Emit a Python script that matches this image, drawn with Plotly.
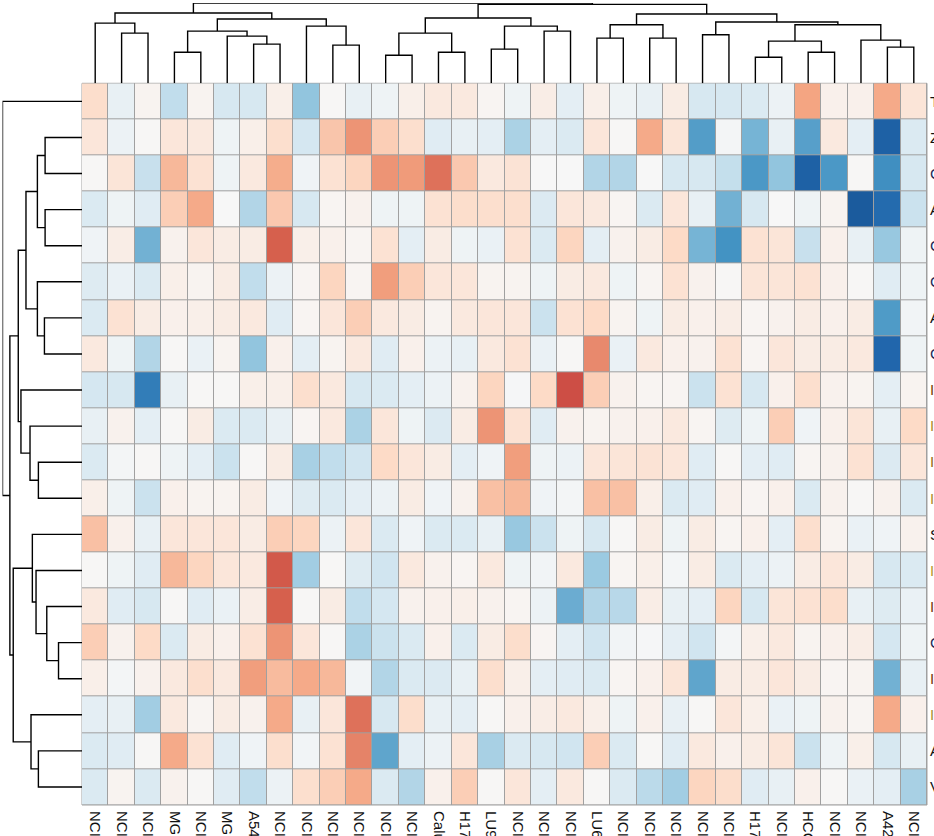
import plotly.graph_objects as go

# ---------------- data ----------------
col_labels = ["NCI-H1299", "NCI-H460", "NCI-H1975", "MGH-7", "NCI-H23", "MGH-24",
              "A549", "NCI-H358", "NCI-H2228", "NCI-H1650", "NCI-H441", "NCI-H838",
              "NCI-H2009", "Calu-3", "H1703", "LU99", "NCI-H522", "NCI-H1437",
              "NCI-H1792", "LU65", "NCI-H2122", "NCI-H1568", "NCI-H2030", "NCI-H1395",
              "NCI-H1355", "H1781", "NCI-H647", "HCC827", "NCI-H2087", "NCI-H1573",
              "A427", "NCI-H596"]

row_labels = ["TGFB1", "ZEB1", "CDH2", "AXL", "CD44", "CCL2", "ACTA2", "CXCL8",
              "IL6", "IL1B", "IFNG", "IL10", "SOX2", "IL17A", "IDO1", "CD274",
              "ICAM1", "IL2", "APOE", "VIM"]

row_label_colors = ["#111111", "#111111", "#1c2a56", "#111111", "#1c2a56", "#1c2a56",
                    "#111111", "#1c2a56", "#7a4200", "#b08a1e", "#9a6a10", "#b08a1e",
                    "#111111", "#b8962a", "#7a3a08", "#1c2a56", "#7a3a08", "#a89030",
                    "#111111", "#111111"]

values = [
    [0.18, -0.08, 0.03, -0.25, 0.03, -0.17, -0.17, 0.06, -0.40, 0.01, -0.08, -0.05, 0.06, 0.10, 0.10, 0.02,
     -0.05, 0.07, -0.10, 0.06, -0.05, -0.08, 0.08, -0.17, -0.17, -0.15, -0.06, 0.40, 0.05, 0.05, 0.38, 0.13],
    [0.12, -0.06, 0.01, 0.12, 0.10, -0.05, 0.06, 0.17, -0.18, 0.28, 0.45, 0.25, 0.17, -0.12, -0.08, -0.10,
     -0.32, -0.10, -0.15, 0.12, 0.01, 0.38, 0.13, -0.56, -0.02, -0.47, -0.08, -0.55, 0.10, -0.10, -0.82, -0.15],
    [0.01, 0.13, -0.23, 0.33, 0.15, -0.05, 0.10, 0.37, -0.04, 0.15, 0.22, 0.45, 0.43, 0.55, 0.27, 0.10,
     0.14, 0.00, 0.00, -0.30, -0.30, 0.00, -0.17, -0.17, -0.24, -0.58, -0.40, -0.82, -0.58, 0.01, -0.62, -0.17],
    [-0.15, -0.05, -0.12, 0.25, 0.38, 0.00, -0.30, 0.27, -0.17, 0.02, 0.04, -0.05, -0.05, 0.15, 0.18, 0.17,
     0.17, -0.14, 0.12, 0.10, 0.02, -0.15, 0.12, -0.08, -0.48, -0.17, 0.00, -0.05, 0.03, -0.84, -0.78, -0.22],
    [-0.04, 0.07, -0.48, 0.04, 0.12, 0.08, 0.08, 0.60, 0.06, 0.05, 0.02, 0.15, -0.10, 0.08, -0.05, -0.07,
     0.15, -0.15, 0.22, -0.10, 0.04, 0.08, 0.20, -0.47, -0.60, 0.15, 0.13, -0.23, 0.05, -0.08, -0.38, -0.05],
    [-0.13, -0.07, -0.15, 0.06, 0.03, 0.08, -0.25, -0.06, 0.02, 0.22, 0.02, 0.42, 0.25, 0.12, 0.12, 0.03,
     0.03, -0.05, 0.08, 0.10, -0.05, 0.02, 0.15, 0.04, 0.01, 0.13, 0.13, 0.15, 0.05, 0.01, -0.12, -0.05],
    [-0.15, 0.15, 0.08, 0.05, 0.06, 0.08, 0.10, -0.12, 0.02, 0.12, 0.25, 0.10, 0.08, 0.03, 0.10, 0.12,
     0.12, -0.22, 0.15, 0.20, 0.03, -0.05, 0.08, 0.05, 0.07, 0.02, 0.04, 0.08, 0.05, 0.08, -0.57, -0.03],
    [0.10, -0.05, -0.30, 0.01, -0.07, 0.03, -0.40, 0.05, -0.10, 0.03, 0.10, -0.12, 0.05, -0.06, -0.08, 0.10,
     0.15, -0.07, 0.01, 0.48, -0.07, 0.10, 0.05, 0.04, 0.15, 0.02, 0.12, 0.08, 0.08, 0.10, -0.80, -0.05],
    [-0.18, -0.17, -0.70, -0.08, 0.01, 0.01, 0.06, 0.06, 0.17, 0.10, -0.17, -0.15, -0.10, -0.06, 0.04, 0.22,
     -0.01, 0.20, 0.65, 0.25, 0.04, 0.02, 0.02, -0.22, 0.15, -0.17, 0.05, 0.17, 0.04, 0.03, -0.10, 0.03],
    [-0.08, 0.04, -0.10, 0.01, 0.08, -0.15, -0.15, -0.08, 0.02, 0.10, -0.32, 0.12, -0.05, -0.14, 0.08, 0.45,
     0.15, -0.12, 0.04, 0.03, 0.04, 0.05, 0.10, 0.02, -0.13, -0.05, 0.25, -0.04, 0.05, 0.13, -0.08, 0.20],
    [-0.15, -0.02, 0.01, -0.05, -0.10, -0.22, 0.01, 0.08, -0.33, -0.25, -0.20, 0.20, 0.12, 0.08, -0.10, -0.04,
     0.42, -0.05, -0.06, 0.12, 0.13, 0.14, 0.12, -0.12, 0.01, -0.10, -0.12, 0.02, 0.04, 0.15, -0.14, 0.12],
    [0.06, -0.05, -0.22, 0.05, 0.03, 0.03, 0.08, -0.04, -0.13, -0.15, -0.10, -0.06, 0.08, -0.04, 0.04, 0.30,
     0.33, -0.04, -0.02, 0.30, 0.30, 0.06, -0.15, -0.12, 0.05, 0.02, 0.05, -0.15, 0.04, 0.01, 0.04, -0.15],
    [0.30, 0.05, -0.08, 0.12, 0.12, 0.12, 0.08, 0.25, 0.22, -0.06, 0.12, -0.15, -0.04, -0.15, -0.15, -0.08,
     -0.38, -0.22, -0.05, -0.17, 0.01, 0.08, -0.05, 0.08, 0.02, 0.05, -0.10, 0.17, 0.03, -0.07, -0.04, 0.04],
    [0.01, -0.05, -0.12, 0.33, 0.22, 0.12, 0.10, 0.62, -0.35, 0.01, -0.13, -0.20, 0.10, 0.04, 0.02, 0.10,
     -0.05, -0.03, 0.10, -0.37, 0.02, 0.06, -0.02, 0.08, -0.15, -0.10, -0.06, 0.08, 0.12, 0.08, -0.17, -0.15],
    [0.10, -0.12, -0.17, 0.01, -0.12, -0.07, 0.07, 0.60, 0.01, 0.08, -0.25, -0.18, 0.04, 0.05, 0.06, 0.04,
     0.02, -0.06, -0.50, -0.30, -0.28, 0.07, -0.08, -0.10, 0.22, -0.17, 0.13, 0.15, 0.18, -0.08, -0.13, -0.07],
    [0.25, 0.04, 0.20, -0.15, 0.08, 0.05, 0.15, 0.45, 0.12, 0.01, -0.32, -0.22, -0.15, 0.05, -0.15, 0.08,
     0.18, 0.02, -0.10, -0.20, -0.03, -0.01, -0.10, -0.20, -0.02, 0.06, 0.10, 0.03, 0.05, 0.07, -0.18, -0.05],
    [0.06, -0.02, 0.04, 0.10, 0.17, 0.10, 0.42, 0.32, 0.38, 0.33, -0.03, -0.30, -0.15, -0.14, -0.08, 0.17,
     0.06, -0.10, -0.12, -0.15, 0.02, 0.05, 0.13, -0.53, 0.08, 0.08, 0.12, 0.08, 0.02, 0.03, -0.48, -0.08],
    [-0.10, -0.08, -0.35, 0.10, 0.02, 0.08, 0.04, 0.38, -0.08, 0.12, 0.55, -0.17, 0.18, -0.08, -0.10, 0.01,
     0.05, 0.07, 0.10, 0.06, -0.05, 0.05, -0.08, 0.01, 0.12, 0.06, -0.07, -0.05, 0.04, 0.02, 0.38, 0.05],
    [-0.15, -0.12, 0.01, 0.38, 0.15, -0.12, -0.04, 0.17, -0.03, 0.15, 0.50, -0.53, -0.10, -0.06, 0.12, -0.33,
     -0.15, -0.17, -0.20, 0.25, -0.15, 0.01, -0.12, 0.10, 0.05, 0.08, 0.13, -0.22, -0.05, 0.06, -0.17, -0.08],
    [-0.15, 0.03, -0.15, 0.04, 0.01, -0.12, -0.25, -0.06, 0.17, 0.25, 0.38, -0.15, -0.30, 0.05, 0.25, 0.01,
     0.12, -0.10, 0.10, 0.01, -0.15, -0.27, -0.35, 0.22, 0.18, -0.12, -0.08, 0.05, 0.01, -0.07, -0.10, -0.33],
]

# hierarchical merges: (child_a, child_b, height); new nodes numbered n, n+1, ...
col_linkage = [
    (1, 2, 150), (0, 32, 180), (3, 4, 93), (6, 7, 117), (5, 35, 141), (34, 36, 156),
    (9, 10, 114), (8, 38, 171), (37, 39, 192), (33, 40, 210), (11, 12, 84), (13, 14, 93),
    (42, 43, 150), (15, 16, 102), (17, 18, 156), (45, 46, 171), (44, 47, 195), (19, 20, 135),
    (21, 22, 135), (49, 50, 175), (23, 24, 145), (25, 26, 78), (27, 28, 93), (53, 54, 126),
    (30, 31, 108), (29, 56, 129), (55, 57, 175), (52, 58, 183), (51, 59, 207), (48, 60, 236),
    (41, 61, 240),
]
row_linkage = [
    (1, 2, 110), (3, 4, 110), (20, 21, 133), (6, 7, 112), (5, 23, 133), (22, 24, 167),
    (10, 11, 130), (9, 26, 155), (8, 27, 182), (25, 28, 190), (15, 16, 70), (14, 30, 105),
    (13, 31, 137), (12, 32, 148), (18, 19, 130), (17, 34, 152), (33, 35, 205), (29, 36, 215),
    (0, 37, 237),
]

colorscale = [[0.0, "#053061"], [0.1, "#2166ac"], [0.2, "#4393c3"], [0.3, "#92c5de"],
              [0.4, "#d1e5f0"], [0.5, "#f7f7f7"], [0.6, "#fddbc7"], [0.7, "#f4a582"],
              [0.8, "#d6604d"], [0.9, "#b2182b"], [1.0, "#67001f"]]


def dendro_segments(linkage, n):
    pos = {i: float(i) for i in range(n)}
    hgt = {i: 0.0 for i in range(n)}
    a_s, h_s = [], []
    for k, (a, b, h) in enumerate(linkage):
        node = n + k
        a_s += [pos[a], pos[a], pos[b], pos[b], None]
        h_s += [hgt[a], h, h, hgt[b], None]
        pos[node] = (pos[a] + pos[b]) / 2
        hgt[node] = h
    return a_s, h_s


W, H = 934, 836
hm_x0, hm_x1 = 82 / W, 927 / W
hm_y0, hm_y1 = 1 - 805 / H, 1 - 83.3 / H

nrow, ncol = len(row_labels), len(col_labels)

fig = go.Figure()

fig.add_trace(go.Heatmap(
    z=values, x=list(range(ncol)), y=list(range(nrow)),
    colorscale=colorscale, zmin=-1, zmax=1, showscale=False,
    xgap=1, ygap=1, hoverinfo="skip",
))

cx, cy = dendro_segments(col_linkage, ncol)
fig.add_trace(go.Scatter(x=cx, y=cy, mode="lines", xaxis="x2", yaxis="y2",
                         line=dict(color="black", width=1.4), hoverinfo="skip"))

rx, ry = dendro_segments(row_linkage, nrow)
fig.add_trace(go.Scatter(x=ry, y=rx, mode="lines", xaxis="x3", yaxis="y3",
                         line=dict(color="black", width=1.4), hoverinfo="skip"))

ticktext_rows = [f"<span style='color:{c}'>{t}</span>" for t, c in zip(row_labels, row_label_colors)]

fig.update_layout(
    width=W, height=H,
    margin=dict(l=0, r=0, t=0, b=0),
    paper_bgcolor="white",
    plot_bgcolor="white",
    showlegend=False,
    font=dict(family="Liberation Sans, Arial, sans-serif", size=15, color="#111111"),
    xaxis=dict(domain=[hm_x0, hm_x1], range=[-0.5, ncol - 0.5], tickmode="array",
               tickvals=list(range(ncol)), ticktext=col_labels, tickangle=90,
               ticks="", ticklabelstandoff=5, showgrid=False, zeroline=False, showline=False,
               automargin=False, tickfont=dict(size=15, color="#111111")),
    yaxis=dict(domain=[hm_y0, hm_y1], range=[nrow - 0.5, -0.5], tickmode="array",
               tickvals=list(range(nrow)), ticktext=ticktext_rows, side="right",
               ticks="", ticklabelstandoff=2, showgrid=False, zeroline=False, showline=False,
               automargin=False, tickfont=dict(size=15)),
    xaxis2=dict(domain=[hm_x0, hm_x1], range=[-0.5, ncol - 0.5], anchor="y2",
                visible=False, fixedrange=True),
    yaxis2=dict(domain=[hm_y1, 1 - 3.0 / H], range=[0, 240], anchor="x2",
                visible=False, fixedrange=True),
    xaxis3=dict(domain=[2.5 / W, hm_x0], range=[237, 0], anchor="y3",
                visible=False, fixedrange=True),
    yaxis3=dict(domain=[hm_y0, hm_y1], range=[nrow - 0.5, -0.5], anchor="x3",
                visible=False, fixedrange=True),
)

# grey cell borders: grey backdrop behind the heatmap, visible through the gaps
fig.add_shape(type="rect", xref="paper", yref="paper", x0=hm_x0, x1=hm_x1, y0=hm_y0, y1=hm_y1,
              line=dict(color="#a0a0a0", width=1), fillcolor="#a0a0a0", layer="below")

fig.write_html("out.html")
